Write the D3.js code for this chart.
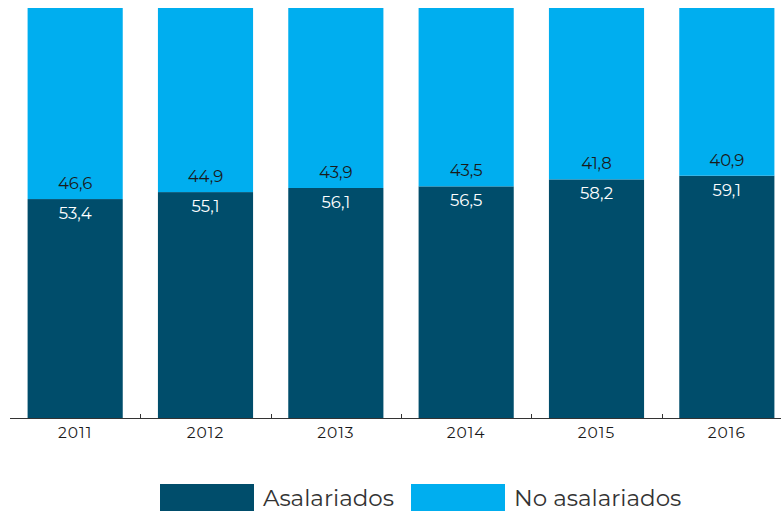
<!DOCTYPE html>
<html>
<head>
<meta charset="utf-8">
<script src="https://cdn.jsdelivr.net/npm/d3@7"></script>
<style>
  html, body { margin: 0; padding: 0; background: #fff; }
  svg { display: block; font-family: "Montserrat", "Lato", "Open Sans", sans-serif; }
</style>
</head>
<body>
<svg id="chart" width="781" height="511"></svg>
<script>
// Share of employed by type of employment, per year (%)
const years = ["2011", "2012", "2013", "2014", "2015", "2016"];
const asalariados = [53.4, 55.1, 56.1, 56.5, 58.2, 59.1];
const noAsalariados = [46.6, 44.9, 43.9, 43.5, 41.8, 40.9];
const seriesNames = ["Asalariados", "No asalariados"];

const colors = { "Asalariados": "#004d6b", "No asalariados": "#00aeef" };
const fmt = v => v.toFixed(1).replace(".", ",");

const svg = d3.select("#chart");
const margin = { top: 8, left: 10, bottom: 93 };
const plotRight = 792;
const plotBottom = 511 - margin.bottom;

const rows = years.map((y, i) => ({
  year: y,
  "Asalariados": asalariados[i],
  "No asalariados": noAsalariados[i]
}));

const stack = d3.stack().keys(seriesNames);
const layers = stack(rows);

const x = d3.scaleBand()
  .domain(years)
  .range([margin.left, plotRight])
  .paddingInner(0.27)
  .paddingOuter(0.135);

const y = d3.scaleLinear()
  .domain([0, 100])
  .range([plotBottom, margin.top]);

// Bars
svg.append("g").selectAll("g")
  .data(layers)
  .join("g")
  .attr("fill", d => colors[d.key])
  .selectAll("rect")
  .data(d => d)
  .join("rect")
  .attr("x", d => x(d.data.year))
  .attr("width", x.bandwidth())
  .attr("y", d => y(d[1]))
  .attr("height", d => y(d[0]) - y(d[1]));

// Value labels: lower segment just below boundary, upper segment just above
const labels = svg.append("g").attr("font-size", 16.5).attr("text-anchor", "middle");
rows.forEach((r, i) => {
  const cx = x(r.year) + x.bandwidth() / 2;
  const boundary = y(asalariados[i]);
  labels.append("text")
    .attr("x", cx).attr("y", boundary + 20)
    .attr("fill", "#ffffff")
    .text(fmt(asalariados[i]));
  labels.append("text")
    .attr("x", cx).attr("y", boundary - 10)
    .attr("fill", "#1a1a1a")
    .text(fmt(noAsalariados[i]));
});

// Category axis with ticks between bands
const axis = svg.append("g");
axis.append("line")
  .attr("x1", margin.left).attr("x2", 781)
  .attr("y1", plotBottom + 0.5).attr("y2", plotBottom + 0.5)
  .attr("stroke", "#333").attr("stroke-width", 1);
const step = x.step();
years.slice(1).forEach(yr => {
  const bx = Math.round(x(yr) - (step - x.bandwidth()) / 2) + 0.5;
  axis.append("line")
    .attr("x1", bx).attr("x2", bx)
    .attr("y1", plotBottom - 4).attr("y2", plotBottom)
    .attr("stroke", "#333").attr("stroke-width", 1);
});
axis.selectAll("text.year")
  .data(years)
  .join("text")
  .attr("class", "year")
  .attr("x", d => x(d) + x.bandwidth() / 2)
  .attr("y", plotBottom + 20)
  .attr("text-anchor", "middle")
  .attr("font-size", 15.5)
  .attr("letter-spacing", 1)
  .attr("fill", "#1a1a1a")
  .text(d => d);

// Legend
const legend = svg.append("g");
const legendItems = [
  { name: "Asalariados", x: 160 },
  { name: "No asalariados", x: 411 }
];
legendItems.forEach(it => {
  legend.append("rect")
    .attr("x", it.x).attr("y", 484)
    .attr("width", 94).attr("height", 27)
    .attr("fill", colors[it.name]);
  legend.append("text")
    .attr("x", it.x + 103).attr("y", 506)
    .attr("font-size", 23)
    .attr("fill", "#333")
    .text(it.name);
});
</script>
</body>
</html>
